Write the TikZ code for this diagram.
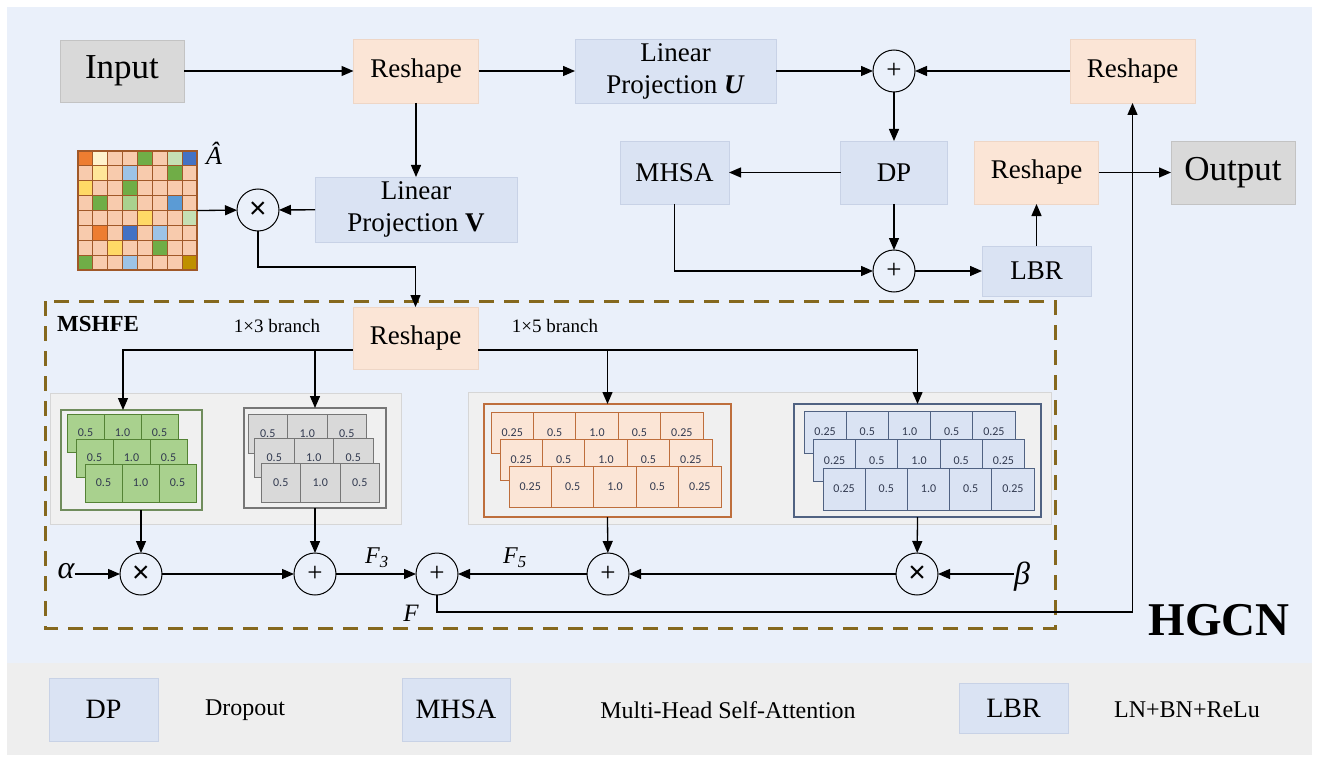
\documentclass[tikz,border=0pt]{standalone}
\usepackage{fontspec}
\setmainfont{Liberation Serif}
\newfontfamily\numfont{Carlito}
\newfontfamily\crossfont{Liberation Sans}
\usetikzlibrary{arrows.meta,calc}
\newcommand\fsz[2]{\fontsize{#1pt}{#2pt}\selectfont}
\newcommand\twolines[2]{\begin{tabular}{@{}c@{}}#1\\#2\end{tabular}}

% panel and box colours
\definecolor{bgblue}{RGB}{234,240,250}
\definecolor{bandgray}{RGB}{238,238,238}
\definecolor{iogray}{RGB}{217,217,217}
\definecolor{peach}{RGB}{251,229,214}
\definecolor{peachln}{RGB}{238,214,198}
\definecolor{pblue}{RGB}{218,227,243}
\definecolor{pblueln}{RGB}{200,210,230}
\definecolor{panelgray}{RGB}{240,240,240}
\definecolor{panelln}{RGB}{214,214,214}
\definecolor{dashbrown}{RGB}{133,104,30}
\definecolor{numtxt}{RGB}{50,58,80}
% kernel colours
\definecolor{kgreen}{RGB}{169,209,142}
\definecolor{kgreenln}{RGB}{84,130,53}
\definecolor{kgreenfr}{RGB}{112,140,92}
\definecolor{kgray}{RGB}{217,217,217}
\definecolor{kgrayln}{RGB}{118,118,118}
\definecolor{korange}{RGB}{251,229,214}
\definecolor{korangeln}{RGB}{190,110,60}
\definecolor{kblue}{RGB}{218,227,243}
\definecolor{kblueln}{RGB}{80,98,130}
% adjacency matrix colours
\definecolor{cP}{RGB}{248,203,173}
\definecolor{cO}{RGB}{237,125,49}
\definecolor{cLy}{RGB}{255,242,204}
\definecolor{cYa}{RGB}{255,230,153}
\definecolor{cYb}{RGB}{255,217,102}
\definecolor{cG}{RGB}{112,173,71}
\definecolor{cLg}{RGB}{197,224,180}
\definecolor{cMg}{RGB}{169,209,142}
\definecolor{cB}{RGB}{68,114,196}
\definecolor{cMb}{RGB}{91,155,213}
\definecolor{cLb}{RGB}{157,195,230}
\definecolor{cDk}{RGB}{191,144,0}
\definecolor{matln}{RGB}{160,88,40}

% three staggered rows of kernel cells
% #1 x0, #2 y0, #3 cell width, #4 cell height, #5 dx, #6 dy, #7 style, #8 values, #9 name prefix
\newcommand\kernelrows[9]{%
  \foreach \rr in {0,1,2}{%
    \foreach \vv [count=\kk from 0] in {#8}{%
      \node[#7, minimum width=#3, minimum height=#4, anchor=north west]
        (#9\rr\kk) at ({#1+\rr*#5+\kk*#3},{#2+\rr*#6}) {\vv};
    }}}

\begin{document}
\begin{tikzpicture}[x=1pt,y=-1pt,
  arr/.style={line width=1.3pt,-{Triangle[length=12pt,width=10pt]}},
  blk/.style={inner sep=0pt,outer sep=0pt,line width=0.8pt,font=\rmfamily\fsz{27}{32}},
  pbox/.style={blk,fill=peach,draw=peachln},
  bbox/.style={blk,fill=pblue,draw=pblueln},
  gbox/.style={blk,fill=iogray,draw=iogray!90!black,font=\rmfamily\fsz{35}{40}},
  opc/.style={circle,draw,line width=1pt,minimum size=42pt,inner sep=0pt,outer sep=0pt},
  plusc/.style={opc,font=\rmfamily\fsz{27}{28}},
  timesc/.style={opc,font=\crossfont\fsz{30}{32}},
  frame/.style={draw,line width=1.3pt,fill=panelgray,inner sep=0pt,outer sep=0pt,anchor=north west},
  cell/.style={draw,line width=1pt,inner sep=0pt,outer sep=0pt,font=\numfont\fsz{12}{14},text=numtxt},
  gcell/.style={cell,fill=kgreen,draw=kgreenln},
  ycell/.style={cell,fill=kgray,draw=kgrayln},
  ocell/.style={cell,fill=korange,draw=korangeln},
  ucell/.style={cell,fill=kblue,draw=kblueln},
  lbl/.style={inner sep=0pt},
]
\useasboundingbox (0,0) rectangle (1319,762);
\fill[white] (0,0) rectangle (1319,762);
\fill[bgblue] (7,7) rectangle (1312,663);
\fill[bandgray] (7,663) rectangle (1312,755);

% ---------------- upper part ----------------
\node[gbox,minimum width=124,minimum height=62] (inp) at (122,71) {Input};
\node[pbox,minimum width=125,minimum height=64] (rs1) at (416,71) {Reshape};
\node[bbox,minimum width=201,minimum height=64] (lpu) at (675.5,71)
  {\twolines{Linear}{Projection \textbf{\textit{U}}}};
\node[plusc] (pt) at (894,71) {+};
\node[pbox,minimum width=125,minimum height=64] (rs3) at (1132.5,71) {Reshape};

\node[bbox,minimum width=109,minimum height=63] (mhsa) at (674.5,172.5) {MHSA};
\node[bbox,minimum width=107,minimum height=63] (dp) at (894,172.5) {DP};
\node[pbox,minimum width=124,minimum height=63] (rs4) at (1036.5,172.5) {Reshape};
\node[gbox,minimum width=124,minimum height=63] (out) at (1233,172.5) {Output};
\node[plusc] (pb) at (894,271) {+};
\node[bbox,minimum width=109,minimum height=50] (lbr) at (1036.5,271) {LBR};

\node[bbox,minimum width=202,minimum height=65] (lpv) at (416,209.5)
  {\twolines{Linear}{Projection \textbf{V}}};
\node[timesc] (xm) at (258,210) {×};

% adjacency matrix A-hat
\node[inner sep=0pt,outer sep=0pt,minimum size=119pt] (mat) at (137.5,210.5) {};
\foreach \rowc [count=\r from 0] in {
  {cO,cLy,cP,cP,cG,cP,cLg,cB},
  {cP,cYa,cP,cLb,cP,cP,cG,cP},
  {cYb,cP,cP,cG,cP,cP,cP,cP},
  {cP,cG,cP,cMg,cP,cP,cMb,cP},
  {cP,cP,cP,cP,cYb,cP,cP,cLg},
  {cP,cO,cP,cB,cP,cLb,cP,cP},
  {cP,cP,cYb,cP,cP,cG,cP,cP},
  {cG,cP,cP,cLb,cP,cP,cP,cDk}}{
  \foreach \cc [count=\k from 0] in \rowc {
    \filldraw[fill=\cc,draw=matln,line width=1pt]
      ({78+\k*14.875},{151+\r*14.875}) rectangle +(14.875,14.875);
  }}
\draw[matln,line width=1.6pt] (78,151) rectangle (197,270);
\node[lbl,font=\rmfamily\itshape\fsz{26}{28}] (ahat) at (214,153) {Â};

% upper connectors
\draw[arr] (inp) -- (rs1);
\draw[arr] (rs1) -- (lpu);
\draw[arr] (lpu) -- (pt);
\draw[arr] (rs3) -- (pt);
\draw[arr] (pt) -- (dp);
\draw[arr] (dp) -- (mhsa);
\draw[arr] (dp) -- (pb);
\draw[arr] (mhsa.south) |- (pb.west);
\draw[arr] (pb) -- (lbr);
\draw[arr] (lbr) -- (rs4);
\draw[arr] (rs4) -- (out);
\draw[arr] (rs1) -- (lpv);
\draw[arr] (lpv) -- (xm);
\draw[arr] (mat.east) -- (xm);

% ---------------- MSHFE block ----------------
\draw[dashbrown,line width=3pt,dash pattern=on 15pt off 10pt] (45,301) rectangle (1055,628);
\node[lbl,font=\rmfamily\bfseries\fsz{23}{26},anchor=west] (mshfe) at (57,324) {MSHFE};
\node[pbox,minimum width=125,minimum height=62] (rs2) at (415.5,338) {Reshape};
\node[lbl,font=\rmfamily\fsz{19}{22}] (b3) at (277,326) {1×3 branch};
\node[lbl,font=\rmfamily\fsz{19}{22}] (b5) at (555,326) {1×5 branch};

\coordinate (j1) at (415.5,267);
\draw[arr] (xm.south) |- (j1) -- (rs2.north);

% branch panels
\filldraw[fill=panelgray,draw=panelln,line width=1pt] (50,393) rectangle (401,524);
\filldraw[fill=panelgray,draw=panelln,line width=1pt] (468,392) rectangle (1051,524);

\node[frame,draw=kgreenfr,minimum width=141,minimum height=100] (fg) at (61,410) {};
\node[frame,draw=kgrayln,minimum width=142,minimum height=100] (fy) at (244,408) {};
\node[frame,draw=korangeln,minimum width=247,minimum height=113] (fo) at (484,404) {};
\node[frame,draw=kblueln,minimum width=247,minimum height=113] (fu) at (794,404) {};

\kernelrows{67}{414}{37}{38}{9}{25}{gcell}{0.5,1.0,0.5}{g}
\kernelrows{248}{414}{39.5}{39}{6.5}{24.5}{ycell}{0.5,1.0,0.5}{y}
\kernelrows{491}{412}{42.4}{41.5}{9}{27}{ocell}{0.25,0.5,1.0,0.5,0.25}{o}
\kernelrows{804}{411}{42.2}{42}{9.5}{28.5}{ucell}{0.25,0.5,1.0,0.5,0.25}{u}

% fusion row
\node[lbl,font=\rmfamily\itshape\fsz{32}{34}] (alpha) at (66,571) {α};
\node[timesc] (c1) at (141,574) {×};
\node[plusc] (c2) at (315,574) {+};
\node[plusc] (cf) at (437,574) {+};
\node[plusc] (c3) at (608,574) {+};
\node[timesc] (c4) at (917,574) {×};
\node[lbl,font=\rmfamily\itshape\fsz{32}{34}] (beta) at (1022,577) {β};
\node[lbl,font=\rmfamily\itshape\fsz{24}{26}] (f3) at (377,558) {F\textsubscript{3}};
\node[lbl,font=\rmfamily\itshape\fsz{24}{26}] (f5) at (515,558) {F\textsubscript{5}};
\node[lbl,font=\rmfamily\itshape\fsz{25}{27}] (fl) at (411,613) {F};

% branch connectors
\coordinate (ysl) at ([yshift=-12pt]rs2.west);
\coordinate (ysr) at ([yshift=-12pt]rs2.east);
\coordinate (gin) at (123,410);
\draw[arr] (ysl) -| (gin);
\draw[arr] (fy.north |- ysl) -- (fy.north);
\draw[arr] (ysr) -| (fu.north);
\draw[arr] (fo.north |- ysr) -- (fo.north);

\draw[arr] (c1.north |- fg.south) -- (c1.north);
\draw[arr] (fy.south) -- (c2);
\draw[arr] (fo.south) -- (c3);
\draw[arr] (fu.south) -- (c4);

\draw[arr] (alpha.east |- c1) -- (c1);
\draw[arr] (c1) -- (c2);
\draw[arr] (c2) -- (cf);
\draw[arr] (c3) -- (cf);
\draw[arr] (c4) -- (c3);
\draw[arr] (beta.west |- c4) -- (c4);

\coordinate (j2) at (1132.5,612);
\draw[arr] (cf.south) |- (j2) -- (rs3.south);

\node[lbl,font=\rmfamily\bfseries\fsz{47}{50}] (hgcn) at (1219,620) {HGCN};

% ---------------- legend ----------------
\node[bbox,minimum width=109,minimum height=63,font=\rmfamily\fsz{28}{30}] (kdp) at (103.5,709.5) {DP};
\node[lbl,font=\rmfamily\fsz{24}{26}] (tdp) at (245,710) {Dropout};
\node[bbox,minimum width=108,minimum height=63,font=\rmfamily\fsz{28}{30}] (kmh) at (456,709.5) {MHSA};
\node[lbl,font=\rmfamily\fsz{24}{26}] (tmh) at (728,710) {Multi-Head Self-Attention};
\node[bbox,minimum width=109,minimum height=50,font=\rmfamily\fsz{28}{30}] (klb) at (1013.5,708) {LBR};
\node[lbl,font=\rmfamily\fsz{24}{26}] (tlb) at (1187,710) {LN+BN+ReLu};
\end{tikzpicture}
\end{document}
